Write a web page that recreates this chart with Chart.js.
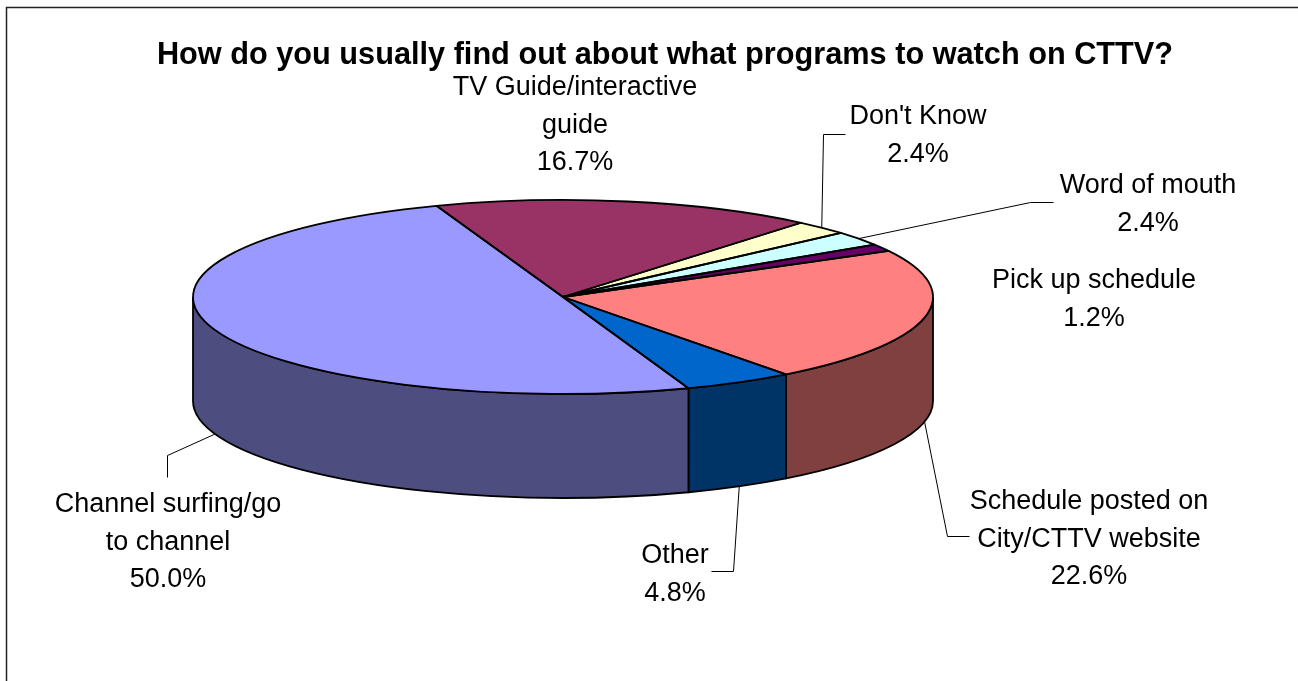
<!DOCTYPE html>
<html>
<head>
<meta charset="utf-8">
<title>CTTV</title>
<script src="https://cdn.jsdelivr.net/npm/chart.js@4"></script>
<style>
    body { margin: 0; background: #fff; }
    canvas { display: block; }
</style>
</head>
<body>
<canvas id="myChart" width="1298" height="681"></canvas>
<script>
const titulo = 'How do you usually find out about what programs to watch on CTTV?';
const categorias = [
    ['TV Guide/interactive', 'guide'],
    ["Don't Know"],
    ['Word of mouth'],
    ['Pick up schedule'],
    ['Schedule posted on', 'City/CTTV website'],
    ['Other'],
    ['Channel surfing/go', 'to channel']
];
const valores = [16.7, 2.4, 2.4, 1.2, 22.6, 4.8, 50.0];
const colores = ['#993366', '#FFFFCC', '#CCFFFF', '#660066', '#FF8080', '#0066CC', '#9999FF'];
const coloresLado = ['#4D1A33', '#808066', '#668080', '#330033', '#804040', '#003366', '#4D4D80'];

// donde va la torta en pantalla (elipse superior + alto del costado)
const pieX = 563, pieY = 297, radioX = 370, radioY = 97, alto = 104;

// centro de cada texto, primera linea, y quiebres de la linea guia
const etiquetas = [
    { x: 575, y: 88, guia: null },
    { x: 918, y: 117, guia: [[823, 134], [845, 134]] },
    { x: 1148, y: 186, guia: [[1030, 202], [1053, 202]] },
    { x: 1094, y: 281, guia: null },
    { x: 1089, y: 502, guia: [[947, 536], [969, 536]] },
    { x: 675, y: 556, guia: [[733, 571], [711, 571]] },
    { x: 168, y: 505, guia: [[167, 455], [167, 477]] }
];
const altoLinea = 37.5;

// dibuja los costados y aplasta la torta de Chart.js sobre la elipse
const torta3d = {
    id: 'torta3d',
    beforeDatasetsDraw(chart) {
        const ctx = chart.ctx;
        const arcos = chart.getDatasetMeta(0).data;

        ctx.save();
        ctx.strokeStyle = '#000';
        ctx.lineWidth = 1.8;
        arcos.forEach((arco, i) => {
            // solo se ve la parte de adelante (0 a PI en el canvas)
            const ini = Math.max(arco.startAngle, 0);
            const fin = Math.min(arco.endAngle, Math.PI);
            if (fin <= ini) return;
            ctx.beginPath();
            ctx.ellipse(pieX, pieY, radioX, radioY, 0, ini, fin);
            ctx.ellipse(pieX, pieY + alto, radioX, radioY, 0, fin, ini, true);
            ctx.closePath();
            ctx.fillStyle = coloresLado[i];
            ctx.fill();
            ctx.stroke();
        });
        ctx.restore();

        const a = arcos[0];
        ctx.save();
        ctx.translate(pieX, pieY);
        ctx.scale(radioX / a.outerRadius, radioY / a.outerRadius);
        ctx.translate(-a.x, -a.y);
    },
    afterDatasetsDraw(chart) {
        const ctx = chart.ctx;
        const arcos = chart.getDatasetMeta(0).data;
        ctx.restore();

        // contorno de cada tajada, con trazo parejo
        ctx.save();
        ctx.strokeStyle = '#000';
        ctx.lineWidth = 1.8;
        ctx.lineJoin = 'round';
        arcos.forEach(arco => {
            ctx.beginPath();
            ctx.moveTo(pieX, pieY);
            ctx.ellipse(pieX, pieY, radioX, radioY, 0, arco.startAngle, arco.endAngle);
            ctx.closePath();
            ctx.stroke();
        });
        ctx.restore();

        ctx.save();
        // marco del grafico (solo arriba e izquierda)
        ctx.strokeStyle = '#222';
        ctx.lineWidth = 1.5;
        ctx.beginPath();
        ctx.moveTo(6.5, 681);
        ctx.lineTo(6.5, 7.5);
        ctx.lineTo(1298, 7.5);
        ctx.stroke();

        // lineas guia, parten del borde de la tajada
        ctx.lineWidth = 1;
        ctx.strokeStyle = '#000';
        etiquetas.forEach((et, i) => {
            if (!et.guia) return;
            const medio = (arcos[i].startAngle + arcos[i].endAngle) / 2;
            const dy = Math.sin(medio) > 0 ? alto : 0;
            ctx.beginPath();
            ctx.moveTo(pieX + radioX * Math.cos(medio), pieY + dy + radioY * Math.sin(medio));
            et.guia.forEach(p => ctx.lineTo(p[0] + 0.5, p[1] + 0.5));
            ctx.stroke();
        });

        // textos
        ctx.fillStyle = '#000';
        ctx.font = '27px "Liberation Sans", Arial, sans-serif';
        ctx.textAlign = 'center';
        ctx.textBaseline = 'middle';
        etiquetas.forEach((et, i) => {
            const lineas = categorias[i].concat(valores[i].toFixed(1) + '%');
            lineas.forEach((txt, n) => ctx.fillText(txt, et.x, et.y + n * altoLinea));
        });
        ctx.restore();
    }
};

const ctx = document.getElementById('myChart').getContext('2d');
const myChart = new Chart(ctx, {
    type: 'pie',
    data: {
        labels: categorias,
        datasets: [{
            data: valores,
            backgroundColor: colores,
            borderWidth: 0,
            clip: false
        }]
    },
    options: {
        responsive: false,
        animation: false,
        rotation: -20,
        layout: { padding: { left: 32 } },
        plugins: {
            legend: { display: false },
            tooltip: { enabled: false },
            title: {
                display: true,
                text: titulo,
                color: '#000',
                font: { family: '"Liberation Sans", Arial, sans-serif', size: 30.7, weight: 'bold' },
                padding: { top: 37, bottom: 0 }
            }
        }
    },
    plugins: [torta3d]
});
</script>
</body>
</html>
